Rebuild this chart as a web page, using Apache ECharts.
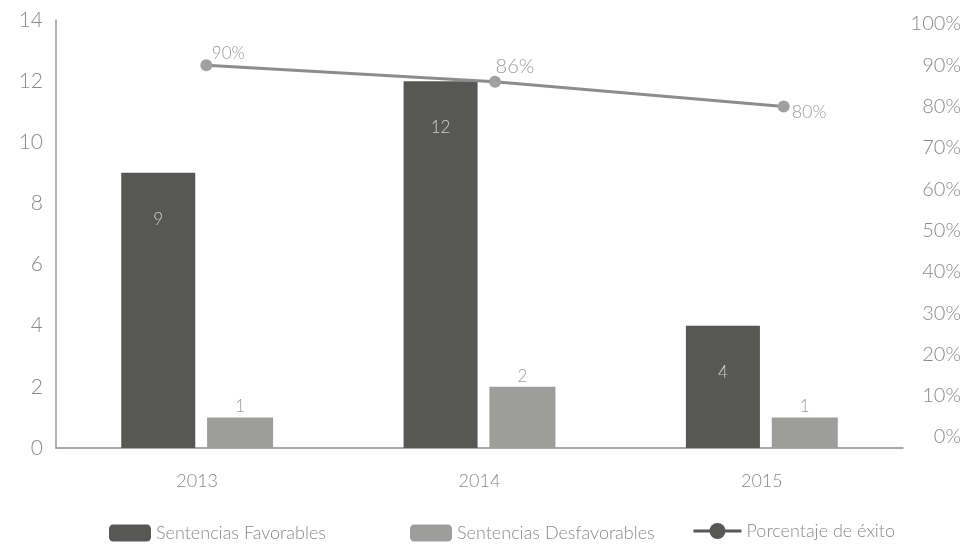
<!DOCTYPE html>
<html>
<head>
<meta charset="utf-8">
<script src="https://cdn.jsdelivr.net/npm/echarts@6/dist/echarts.min.js"></script>
<style>
  html, body { margin: 0; padding: 0; background: #ffffff; }
  #chart { width: 978px; height: 544px; }
</style>
</head>
<body>
<div id="chart"></div>
<script>
const categories = ['2013', '2014', '2015'];
const favorables = [9, 12, 4];
const desfavorables = [1, 2, 1];
const porcentaje = [90, 86, 80];
const leftTicks = [0, 2, 4, 6, 8, 10, 12, 14];
const rightTicks = [0, 10, 20, 30, 40, 50, 60, 70, 80, 90, 100];

const FONT = 'Lato';
const TXT = '#8a8a8a';

const chart = echarts.init(document.getElementById('chart'));
const option = {
  backgroundColor: '#ffffff',
  animation: false,
  textStyle: { fontFamily: FONT, fontWeight: 300 },
  grid: [
    { left: 56, right: 75, top: 20, bottom: 96, containLabel: false },
    { left: 62, right: 50, top: 20, bottom: 96, containLabel: false }
  ],
  legend: [
    {
      data: ['Sentencias Favorables'], left: 104, top: 519,
      itemWidth: 42, itemHeight: 17, itemGap: 0,
      textStyle: { fontFamily: FONT, fontWeight: 300, fontSize: 18, color: TXT }
    },
    {
      data: ['Sentencias Desfavorables'], left: 405, top: 519,
      itemWidth: 42, itemHeight: 17, itemGap: 0,
      textStyle: { fontFamily: FONT, fontWeight: 300, fontSize: 18, color: TXT }
    },
    {
      data: [{ name: 'Porcentaje de éxito', itemStyle: { color: '#575756' }, lineStyle: { color: '#575756', width: 3 } }],
      left: 687, top: 517,
      itemWidth: 48, itemHeight: 20, itemGap: 0,
      textStyle: { fontFamily: FONT, fontWeight: 300, fontSize: 18, color: TXT }
    }
  ],
  xAxis: [
    {
      type: 'category',
      gridIndex: 0,
      data: categories,
      axisLine: { show: true, lineStyle: { color: '#8c8c8c', width: 1.5 } },
      axisTick: { show: false },
      axisLabel: { margin: 24, fontFamily: FONT, fontWeight: 300, fontSize: 18, color: TXT }
    },
    {
      type: 'category',
      gridIndex: 1,
      data: categories,
      show: false
    }
  ],
  yAxis: [
    {
      type: 'value', gridIndex: 0, min: 0, max: 14, interval: 2,
      axisLine: { show: true, lineStyle: { color: '#9a9a9a', width: 1.5 } },
      axisTick: { show: false },
      splitLine: { show: false },
      axisLabel: {
        margin: 13, fontFamily: FONT, fontWeight: 300, fontSize: 21, color: TXT,
        customValues: leftTicks
      }
    },
    {
      type: 'value', gridIndex: 1, position: 'right', min: -2.66, max: 100.97,
      axisLine: { show: false },
      axisTick: { show: false },
      splitLine: { show: false },
      axisLabel: {
        margin: 33, align: 'right', fontFamily: FONT, fontWeight: 300, fontSize: 20, color: TXT,
        customValues: rightTicks,
        formatter: '{value}%'
      }
    }
  ],
  series: [
    {
      name: 'Sentencias Favorables',
      type: 'bar',
      xAxisIndex: 0, yAxisIndex: 0,
      data: favorables,
      barWidth: 74,
      barGap: '16%',
      itemStyle: { color: '#575756' },
      label: {
        show: true, position: 'insideTop', distance: 38,
        fontFamily: FONT, fontWeight: 300, fontSize: 17, color: '#d0d0d0'
      }
    },
    {
      name: 'Sentencias Desfavorables',
      type: 'bar',
      xAxisIndex: 0, yAxisIndex: 0,
      data: desfavorables,
      barWidth: 66,
      itemStyle: { color: '#9d9d9c' },
      label: {
        show: true, position: 'top', distance: 2,
        fontFamily: FONT, fontWeight: 300, fontSize: 17, color: '#9a9a9a'
      }
    },
    {
      name: 'Porcentaje de éxito',
      type: 'line',
      xAxisIndex: 1, yAxisIndex: 1,
      data: porcentaje.map((v, i) => ({
        value: v,
        label: i === 0 ? { position: 'top', offset: [22, 5], fontSize: 17 }
             : i === 1 ? { position: 'top', offset: [20, 3], fontSize: 20 }
             : { position: 'right', offset: [0, 6] }
      })),
      symbol: 'circle',
      symbolSize: 12,
      lineStyle: { color: '#8c8c8c', width: 3 },
      itemStyle: { color: '#a0a0a0' },
      label: {
        show: true, formatter: '{c}%', distance: 2,
        fontFamily: FONT, fontWeight: 300, fontSize: 18, color: '#9a9a9a'
      }
    }
  ]
};
chart.setOption(option);
</script>
</body>
</html>
